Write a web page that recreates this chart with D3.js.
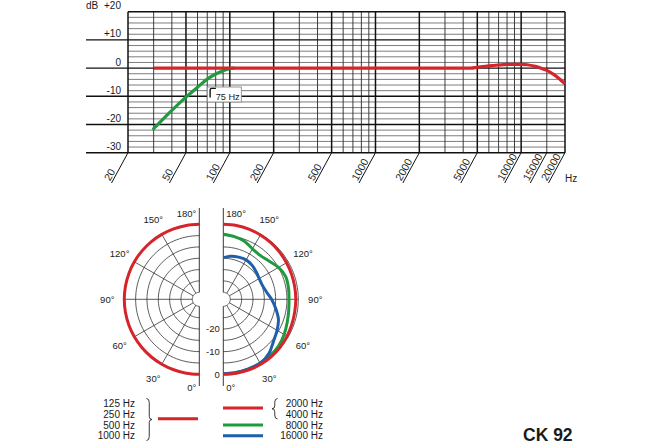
<!DOCTYPE html>
<html><head><meta charset="utf-8">
<script src="https://cdn.jsdelivr.net/npm/d3@7"></script>
<style>
body{margin:0;background:#fff}
svg{display:block}
text{font-family:"Liberation Sans",Arial,Helvetica,sans-serif;fill:#1a1a1a}
</style>
</head><body>
<svg id="c" width="670" height="447"></svg>
<script>
// ===== Frequency response data =====
const freqTickLabels = [20, 50, 100, 200, 500, 1000, 2000, 5000, 10000, 15000, 20000];
const freqGridMinor = [30, 40, 60, 70, 80, 90, 300, 400, 600, 700, 800, 900, 3000, 4000, 6000, 7000, 8000, 9000, 15000];
const freqGridMajor = [50, 100, 200, 500, 1000, 2000, 5000, 10000];
const dbTicks = [20, 10, 0, -10, -20, -30];
const dbTickLabels = ["+20", "+10", "0", "-10", "-20", "-30"];
const responseFreq = [30, 4500, 5000, 6000, 7000, 8000, 10000, 11000, 12500, 14000, 15000, 17000, 20000];
const responseDb   = [0, 0, 0.3, 0.8, 1.1, 1.3, 1.35, 1.2, 0.6, -0.2, -0.8, -2.5, -5.6];
const lowcutFreq = [30, 40, 50, 60, 70, 80, 90, 100, 106];
const lowcutDb   = [-21.5, -15, -10.3, -6.8, -3.9, -2.1, -0.9, -0.2, 0];
const lowcutCorner = 75;
const lowcutLabel = "75 Hz";

// ===== Polar data =====
const polarAngles = [0,10,20,30,40,50,60,70,80,90,100,110,120,130,140,150,160,170,180];
const polarLowDb   = [0,0,0,0,0,0,0,0,0,0,0,0,0,0,0,0,0,0,0];
const polar2k4kDb  = [0,0,0,0,-0.1,-0.3,-0.6,-0.9,-1.1,-1.1,-1.1,-1.0,-0.9,-0.7,-0.5,-0.3,-0.1,0,0];
const polar8kDb    = [-0.2,-0.3,-0.4,-0.6,-0.8,-1.2,-2.1,-3.1,-3.8,-4.1,-3.9,-3.8,-5.0,-6.8,-7.8,-7.4,-5.8,-5.0,-4.4];
const polar16kDb   = [-0.2,-0.3,-0.4,-0.5,-1.8,-4.2,-5.7,-7.2,-9.6,-11.8,-13.8,-14.8,-14.8,-14.2,-13.4,-13.0,-13.3,-13.8,-14.7];
const polarRingDb = [-30, -25, -20, -15, -10, -5, 0];
const polarSpokes = [30, 60, 90, 120, 150];
const polarDegLabels = [0, 30, 60, 90, 120, 150, 180];
const polarRingLabels = [0, -10, -20];
const legendLowLabels = ["125 Hz", "250 Hz", "500 Hz", "1000 Hz"];
const legendHighLabels = ["2000 Hz", "4000 Hz", "8000 Hz", "16000 Hz"];
const modelName = "CK 92";

const RED = "#d6242b", GREEN = "#1f9a3e", BLUE = "#1f5fab";
const svg = d3.select("#c");

// ===== Frequency chart =====
const x = d3.scaleLog().domain([20, 20000]).range([128, 565]);
const y = d3.scaleLinear().domain([-30, 20]).range([152.7, 11.7]);
const g1 = svg.append("g");

const dbMinor = d3.range(-28, 20, 2).filter(d => d % 10 !== 0);
g1.selectAll(".hmin").data(dbMinor).join("line")
  .attr("x1", x(20)).attr("x2", x(20000))
  .attr("y1", d => y(d)).attr("y2", d => y(d))
  .attr("stroke", "#6e6e6e").attr("stroke-width", 0.9);

g1.selectAll(".vmin").data(freqGridMinor).join("line")
  .attr("x1", d => x(d)).attr("x2", d => x(d))
  .attr("y1", y(20)).attr("y2", y(-30))
  .attr("stroke", "#2a2a2a").attr("stroke-width", 0.9);
g1.selectAll(".vmaj").data(freqGridMajor.concat([20, 20000])).join("line")
  .attr("x1", d => x(d)).attr("x2", d => x(d))
  .attr("y1", y(20)).attr("y2", y(-30))
  .attr("stroke", "#111").attr("stroke-width", 1.5);

g1.selectAll(".hmaj").data(dbTicks).join("line")
  .attr("x1", d => d === 20 ? x(20) : 86).attr("x2", x(20000))
  .attr("y1", d => y(d)).attr("y2", d => y(d))
  .attr("stroke", "#111").attr("stroke-width", 1.4);

g1.selectAll(".dbl").data(dbTicks).join("text")
  .attr("x", 121).attr("y", d => y(d) - 2.5)
  .attr("text-anchor", "end").attr("font-size", 10)
  .text((d, i) => dbTickLabels[i]);
g1.append("text").attr("x", 86).attr("y", y(20) - 2.5).attr("font-size", 10).text("dB");

// frequency ticks (slashes) and rotated labels
const slashDx = -16.5, slashY = 183;
g1.selectAll(".ft").data(freqTickLabels).join("line")
  .attr("x1", d => x(d)).attr("y1", y(-30))
  .attr("x2", d => x(d) + slashDx).attr("y2", slashY)
  .attr("stroke", "#111").attr("stroke-width", 1);
g1.selectAll(".fl").data(freqTickLabels).join("text")
  .attr("transform", d => `translate(${x(d) + slashDx},${slashY}) rotate(-61)`)
  .attr("x", 0.5).attr("y", -2)
  .attr("font-size", 10.5)
  .text(d => d);
g1.append("text").attr("x", 565).attr("y", 181.5).attr("font-size", 10).text("Hz");

const fline = d3.line().x(d => x(d[0])).y(d => y(d[1])).curve(d3.curveMonotoneX);
g1.append("path").datum(lowcutFreq.map((f, i) => [f, lowcutDb[i]]))
  .attr("d", fline).attr("fill", "none").attr("stroke", GREEN).attr("stroke-width", 3.2).attr("stroke-linecap", "round");
g1.append("path").datum(responseFreq.map((f, i) => [f, responseDb[i]]))
  .attr("d", fline).attr("fill", "none").attr("stroke", RED).attr("stroke-width", 3.2);

// 75 Hz box
const bx = x(lowcutCorner) - 4.3, by = y(-6.7);
g1.append("rect").attr("x", bx).attr("y", by).attr("width", 34).attr("height", 15)
  .attr("fill", "#fff").attr("stroke", "#8a8a8a").attr("stroke-width", 0.9);
g1.append("path")
  .attr("d", `M${bx + 2.8},${by + 10.5} L${bx + 2.8},${by + 3} Q${bx + 2.8},${by + 1.4} ${bx + 4.4},${by + 1.4} L${bx + 8.6},${by + 1.4}`)
  .attr("fill", "none").attr("stroke", "#111").attr("stroke-width", 1.4);
g1.append("text").attr("x", bx + 8.4).attr("y", by + 12.6).attr("font-size", 9.2).text(lowcutLabel);

// ===== Polar diagrams =====
const r = d3.scaleLinear().domain([-30, 0]).range([7, 75]);
const cy = 299.3, cxL = 199.3, cxR = 223.3;
const rad = a => a * Math.PI / 180;
const fineAngles = d3.range(0, 181, 3);

function halfPolar(cx, side) {
  const g = svg.append("g").attr("transform", `translate(${cx},${cy})`);
  const ang = t => side < 0 ? Math.PI + rad(t) : Math.PI - rad(t);
  const ring = d3.lineRadial().angle(t => ang(t));
  g.selectAll(".ring").data(polarRingDb).join("path")
    .attr("d", db => ring.radius(r(db))(fineAngles))
    .attr("fill", "none").attr("stroke", "#333").attr("stroke-width", 0.8);
  g.selectAll(".spoke").data(polarSpokes).join("line")
    .attr("x1", t => side * r(-30) * Math.sin(rad(t))).attr("y1", t => r(-30) * Math.cos(rad(t)))
    .attr("x2", t => side * r(0) * Math.sin(rad(t))).attr("y2", t => r(0) * Math.cos(rad(t)))
    .attr("stroke", "#333").attr("stroke-width", 0.8);
  g.append("line").attr("x1", 0).attr("x2", 0).attr("y1", 208 - cy).attr("y2", -r(-30))
    .attr("stroke", "#222").attr("stroke-width", 0.9);
  g.append("line").attr("x1", 0).attr("x2", 0).attr("y1", r(-30)).attr("y2", 386 - cy)
    .attr("stroke", "#222").attr("stroke-width", 0.9);
  // degree labels
  g.selectAll(".deg").data(polarDegLabels).join("text")
    .attr("font-size", 9.5)
    .attr("text-anchor", t => (t === 0 || t === 180) ? (side < 0 ? "end" : "start") : "middle")
    .attr("dominant-baseline", "central")
    .attr("x", t => (t === 0 || t === 180) ? side * 3 : side * 92 * Math.sin(rad(t)))
    .attr("y", t => t === 0 ? 88 : t === 180 ? -86 : 92 * Math.cos(rad(t)))
    .text(t => t + "°");
  return { g, line: d3.lineRadial().angle(d => ang(d[0])).radius(d => r(d[1])).curve(d3.curveCatmullRom) };
}

const L = halfPolar(cxL, -1);
L.g.append("path").datum(polarAngles.map((a, i) => [a, polarLowDb[i]]))
  .attr("d", L.line).attr("fill", "none").attr("stroke", RED).attr("stroke-width", 3);

const R = halfPolar(cxR, 1);
R.g.append("path").datum(polarAngles.map((a, i) => [a, polar8kDb[i]]))
  .attr("d", R.line).attr("fill", "none").attr("stroke", GREEN).attr("stroke-width", 3);
R.g.append("path").datum(polarAngles.map((a, i) => [a, polar16kDb[i]]))
  .attr("d", R.line).attr("fill", "none").attr("stroke", BLUE).attr("stroke-width", 3);
R.g.append("path").datum(polarAngles.map((a, i) => [a, polar2k4kDb[i]]))
  .attr("d", R.line).attr("fill", "none").attr("stroke", RED).attr("stroke-width", 3);

svg.selectAll(".rl").data(polarRingLabels).join("text")
  .attr("x", cxR - 3.5).attr("y", d => cy + r(d))
  .attr("text-anchor", "end").attr("dominant-baseline", "central").attr("font-size", 9.5)
  .text(d => d);

// ===== Legend =====
const legY = d3.scaleLinear().domain([0, 3]).range([403.3, 435.7]);
svg.selectAll(".ll").data(legendLowLabels).join("text")
  .attr("x", 135).attr("y", (d, i) => legY(i) + 3.6).attr("text-anchor", "end").attr("font-size", 10).text(d => d);
svg.selectAll(".lh").data(legendHighLabels).join("text")
  .attr("x", 323).attr("y", (d, i) => legY(i) + 3.6).attr("text-anchor", "end").attr("font-size", 10).text(d => d);

function brace(x0, y0, y1, w, dir) {
  const ym = (y0 + y1) / 2, xm = x0 + dir * w / 2, xt = x0 + dir * w;
  return `M${x0},${y0} Q${xm},${y0} ${xm},${y0 + 4} L${xm},${ym - 3} Q${xm},${ym} ${xt},${ym}` +
         ` Q${xm},${ym} ${xm},${ym + 3} L${xm},${y1 - 4} Q${xm},${y1} ${x0},${y1}`;
}
svg.append("path").attr("d", brace(146.5, 398.5, 440.5, 5.5, 1)).attr("fill", "none").attr("stroke", "#222").attr("stroke-width", 0.9);
svg.append("path").attr("d", brace(277.5, 398.5, 419, 5.5, -1)).attr("fill", "none").attr("stroke", "#222").attr("stroke-width", 0.9);

svg.append("line").attr("x1", 158).attr("x2", 198).attr("y1", (legY(0) + legY(3)) / 2 - 0.8).attr("y2", (legY(0) + legY(3)) / 2 - 0.8)
  .attr("stroke", RED).attr("stroke-width", 3);
const legHigh = [[(legY(0) + legY(1)) / 2 - 0.6, RED], [legY(2), GREEN], [legY(3), BLUE]];
svg.selectAll(".lhl").data(legHigh).join("line")
  .attr("x1", 223).attr("x2", 263).attr("y1", d => d[0]).attr("y2", d => d[0])
  .attr("stroke", d => d[1]).attr("stroke-width", 3);

svg.append("text").attr("x", 523).attr("y", 440.6).attr("font-size", 17.5).attr("font-weight", "bold").text(modelName);
</script>
</body></html>
